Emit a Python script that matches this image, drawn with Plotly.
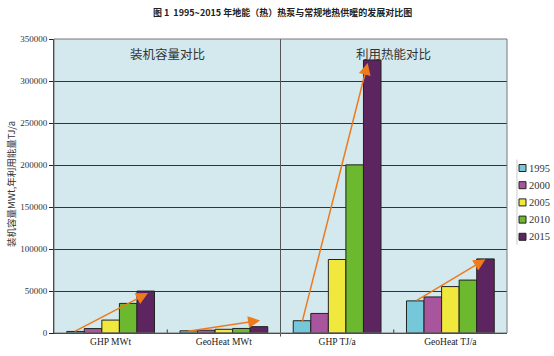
import plotly.graph_objects as go

categories = ["GHP MWt", "GeoHeat MWt", "GHP TJ/a", "GeoHeat TJ/a"]
years = ["1995", "2000", "2005", "2010", "2015"]
v1995 = [1854, 2600, 14617, 38230]
v2000 = [5275, 3300, 23275, 42926]
v2005 = [15384, 4400, 87503, 55256]
v2010 = [35236, 5400, 200149, 62984]
v2015 = [49898, 7556, 325028, 88222]
series = [v1995, v2000, v2005, v2010, v2015]
colors = ["#74c8d9", "#a9559e", "#f0e83c", "#6cb92f", "#5c2560"]
y_ticks = [0, 50000, 100000, 150000, 200000, 250000, 300000, 350000]

# trend arrows: (start x, start y, end x, end y) in data units
arrows = [
    (-0.33, 1000, 0.33, 47500),
    (0.67, 1900, 1.32, 15000),
    (1.69, 12600, 2.27, 321500),
    (2.69, 37700, 3.31, 87800),
]

serif = "Liberation Serif"
cjk = "Noto Sans CJK SC"
xpos = list(range(len(categories)))

fig = go.Figure()
for yr, vals, c in zip(years, series, colors):
    fig.add_trace(go.Bar(
        x=xpos, y=vals, name=yr, showlegend=False,
        marker=dict(color=c, line=dict(color="#222222", width=1)),
    ))

annotations = []
for sx, sy, ex, ey in arrows:
    annotations.append(dict(
        x=ex, y=ey, ax=sx, ay=sy, xref="x", yref="y", axref="x", ayref="y",
        text="", showarrow=True, arrowhead=2, arrowsize=1.6, arrowwidth=1.5,
        arrowcolor="#ee7a1c",
    ))
annotations += [
    dict(x=0.5, y=1, xref="x", yref="paper", yanchor="top", yshift=-3,
         text="装机容量对比", showarrow=False,
         font=dict(family=cjk, size=12.5, color="#333333")),
    dict(x=2.5, y=1, xref="x", yref="paper", yanchor="top", yshift=-3,
         text="利用热能对比", showarrow=False,
         font=dict(family=cjk, size=12.5, color="#333333")),
    dict(x=(11 - 54) / 453, y=(333 - 184) / 294, xref="paper", yref="paper",
         xanchor="center", yanchor="middle", textangle=-90, borderpad=0,
         text="装机容量MWt,年利用能量TJ/a", showarrow=False,
         font=dict(family=cjk, size=9.5, color="#333333")),
]

shapes = [
    dict(type="line", xref="x", yref="paper", x0=1.5, x1=1.5, y0=-0.012, y1=1,
         line=dict(color="#555555", width=1)),
    dict(type="line", xref="x", yref="paper", x0=0.5, x1=0.5, y0=0, y1=0.012,
         line=dict(color="#333333", width=1)),
    dict(type="line", xref="x", yref="paper", x0=2.5, x1=2.5, y0=0, y1=0.012,
         line=dict(color="#333333", width=1)),
    dict(type="line", xref="paper", yref="paper", x0=1.022, x1=1.022, y0=0.3, y1=0.59,
         line=dict(color="#cccccc", width=1)),
]

# manual legend (paper coords)
plot_w, plot_h = 453, 294
leg_x0 = 1.0 + (519 - 507) / plot_w
for i, (yr, c) in enumerate(zip(years, colors)):
    yc = (333 - (168 + i * 17.2)) / plot_h
    hh = 3.5 / plot_h
    shapes.append(dict(type="rect", xref="paper", yref="paper",
                       x0=leg_x0, x1=leg_x0 + 7 / plot_w, y0=yc - hh, y1=yc + hh,
                       fillcolor=c, line=dict(color="#222222", width=1)))
    annotations.append(dict(x=leg_x0 + 8 / plot_w, y=yc, xref="paper", yref="paper",
                            xanchor="left", yanchor="middle", text=yr, showarrow=False,
                            font=dict(family=serif, size=10.5, color="#333333")))

fig.update_layout(
    width=554, height=356,
    margin=dict(l=54, r=47, t=39, b=23, autoexpand=False),
    paper_bgcolor="white", plot_bgcolor="#d3e9ee",
    barmode="group", bargap=0.225, bargroupgap=0,
    title=dict(text="<b>图 1  1995~2015 年地能（热）热泵与常规地热供暖的发展对比图</b>",
               x=0.51, xanchor="center", y=0.965, yanchor="middle",
               font=dict(family=cjk, size=9, color="#222222")),
    xaxis=dict(range=[-0.5, 3.5], tickvals=xpos, ticktext=categories,
               ticks="", showgrid=False, zeroline=False,
               showline=True, linecolor="#222222", linewidth=1, mirror=False,
               tickfont=dict(family=serif, size=9.5, color="#222222")),
    yaxis=dict(range=[0, 350000], tickvals=y_ticks, ticktext=[str(v) for v in y_ticks],
               ticks="outside", ticklen=4,
               tickcolor="#222222", showgrid=True, gridcolor="#333333", gridwidth=1,
               zeroline=False, showline=True, linecolor="#222222", linewidth=1,
               tickfont=dict(family=serif, size=9, color="#333333")),
    annotations=annotations, shapes=shapes,
    showlegend=False,
)
# plot area border top/right
fig.add_shape(type="rect", xref="paper", yref="paper", x0=0, x1=1, y0=0, y1=1,
              line=dict(color="#777777", width=1), layer="above")

fig.write_html(
    "out.html",
    config={"displayModeBar": False},
    post_script="document.body.style.margin='0';document.body.style.overflow='hidden';",
)
